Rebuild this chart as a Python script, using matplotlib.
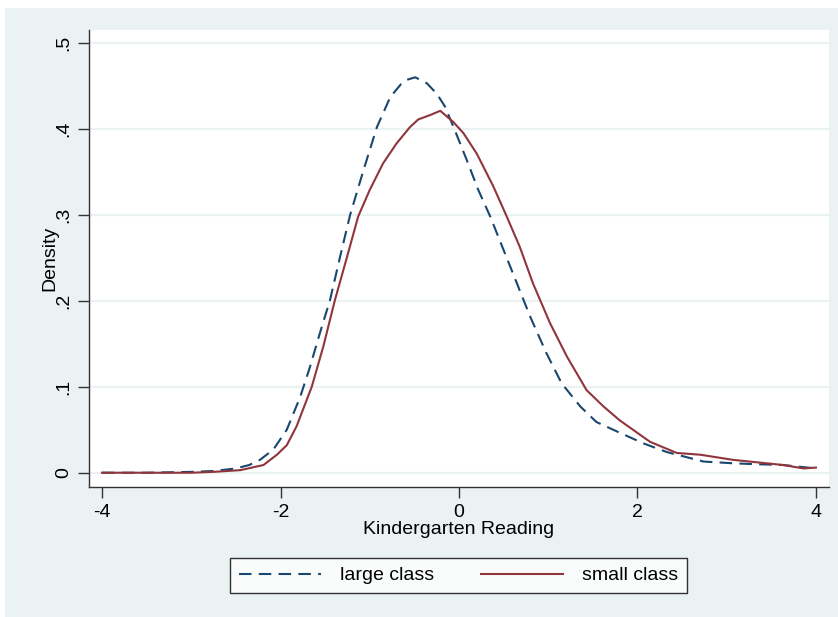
import matplotlib
matplotlib.use("Agg")
import matplotlib.pyplot as plt
from matplotlib.patches import Rectangle

plt.rcParams['font.family'] = ['Liberation Sans', 'DejaVu Sans']

# Kernel density of kindergarten reading scores
large_x = [-4.0, -3.5, -3.0, -2.75, -2.5, -2.35, -2.23, -2.08, -1.93, -1.78, -1.67,
           -1.56, -1.445, -1.333, -1.22, -1.07, -0.92, -0.77, -0.65, -0.586, -0.49,
           -0.36, -0.25, -0.157, -0.045, 0.086, 0.216, 0.35, 0.5, 0.65, 0.80, 0.98,
           1.15, 1.36, 1.54, 1.77, 2.07, 2.33, 2.74, 3.07, 3.3, 3.63, 4.0]
large_d = [0.0, 0.0, 0.001, 0.002, 0.005, 0.009, 0.015, 0.027, 0.050, 0.088, 0.123,
           0.162, 0.201, 0.251, 0.300, 0.352, 0.402, 0.437, 0.452, 0.457, 0.460,
           0.453, 0.441, 0.426, 0.398, 0.364, 0.329, 0.298, 0.259, 0.220, 0.181, 0.139,
           0.104, 0.077, 0.059, 0.048, 0.034, 0.024, 0.013, 0.011, 0.010, 0.009, 0.005]

small_x = [-4.0, -3.5, -3.0, -2.75, -2.45, -2.19, -2.04, -1.93, -1.82, -1.65, -1.52,
           -1.39, -1.26, -1.13, -1.0, -0.85, -0.70, -0.55, -0.456, -0.325, -0.21,
           -0.064, 0.05, 0.2, 0.385, 0.535, 0.68, 0.83, 1.02, 1.21, 1.43, 1.62, 1.80,
           2.14, 2.44, 2.70, 3.07, 3.63, 3.86, 4.0]
small_d = [0.0, 0.0, 0.0, 0.001, 0.003, 0.009, 0.021, 0.032, 0.054, 0.100, 0.147,
           0.201, 0.249, 0.298, 0.329, 0.360, 0.383, 0.402, 0.411, 0.416, 0.421,
           0.408, 0.395, 0.371, 0.333, 0.298, 0.263, 0.220, 0.174, 0.135, 0.096, 0.077, 0.061,
           0.036, 0.023, 0.021, 0.015, 0.009, 0.005, 0.006]

x_ticks = [-4, -2, 0, 2, 4]
x_tick_labels = ['-4', '-2', '0', '2', '4']
y_ticks = [0, 0.1, 0.2, 0.3, 0.4, 0.5]
y_tick_labels = ['0', '.1', '.2', '.3', '.4', '.5']

BG = '#EAF2F3'
NAVY = '#1A476F'
MAROON = '#90353B'
FS = 14

fig = plt.figure(figsize=(8.38, 6.17), dpi=100, facecolor='white')
# Stata graph region
fig.patches.append(Rectangle((5 / 838, 0), 1, 1 - 8 / 617, transform=fig.transFigure,
                             facecolor=BG, edgecolor='none', zorder=-10))

ax = fig.add_axes([89 / 838, 1 - 487 / 617, 740 / 838, 457 / 617])
ax.set_facecolor('white')

ax.plot(large_x, large_d, color=NAVY, lw=1.5, dashes=(6, 3.5), label='large class')
ax.plot(small_x, small_d, color=MAROON, lw=1.5, label='small class')

ax.set_xlim(-4.146, 4.146)
ax.set_ylim(-0.0166, 0.515)
ax.set_xticks(x_ticks)
ax.set_xticklabels(x_tick_labels, fontsize=FS)
ax.set_yticks(y_ticks)
ax.set_yticklabels(y_tick_labels, fontsize=FS, rotation=90, va='center')
ax.tick_params(direction='out', length=8, width=1, color='#333333', pad=4)

ax.grid(axis='y', color=BG, lw=1.6)
ax.set_axisbelow(True)
for side in ['top', 'right']:
    ax.spines[side].set_visible(False)
for side in ['left', 'bottom']:
    ax.spines[side].set_color('#333333')
    ax.spines[side].set_linewidth(1.0)

ax.set_xlabel('Kindergarten Reading', fontsize=FS, labelpad=0)
ax.set_ylabel('Density', fontsize=FS, labelpad=-2)

leg = fig.legend(loc='center', bbox_to_anchor=(458.5 / 838, 1 - 575.5 / 617), ncol=2,
                 fontsize=FS, frameon=True, fancybox=False, edgecolor='black',
                 handlelength=4.2, handletextpad=1.0, columnspacing=2.4,
                 borderpad=0.45, borderaxespad=0)
leg.get_frame().set_linewidth(1.0)

fig.savefig('out.png', dpi=100, facecolor=fig.get_facecolor())
